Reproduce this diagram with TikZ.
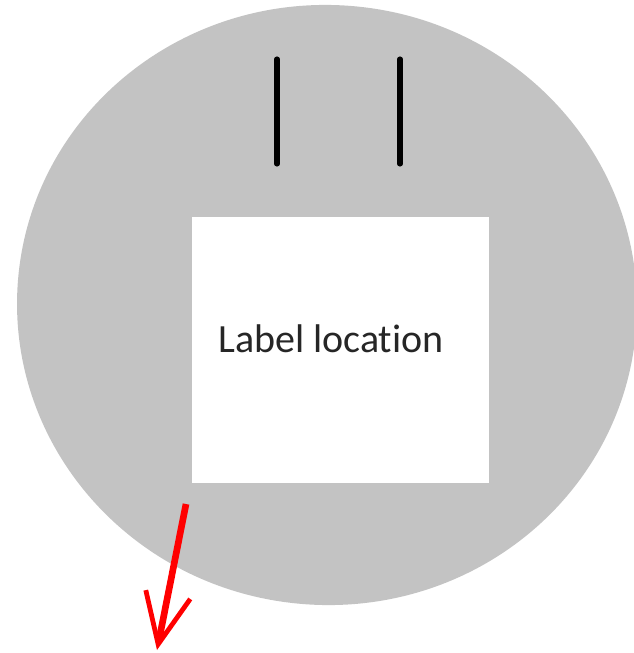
\documentclass[tikz,border=0pt]{standalone}
\usepackage{fontspec}
\setmainfont[Ligatures=NoCommon]{Carlito}
\usetikzlibrary{arrows.meta,shapes.geometric}
\definecolor{disc}{RGB}{195,195,195}
\definecolor{arrowred}{RGB}{255,0,0}
\tikzset{
  pin/.style={line width=3.8pt,line cap=round,black},
  pointer/.style={line width=5pt,arrowred,-{Straight Barb[length=38pt,width=34pt,line width=3.6pt]}},
}
\begin{document}
\begin{tikzpicture}[x=0.75pt,y=-0.75pt]
\useasboundingbox (0,0) rectangle (634,653);
\node[ellipse,fill=disc,minimum width=620*0.75pt,minimum height=600*0.75pt,inner sep=0pt,rotate=-4] (disc) at (327,305) {};
\node[fill=white,minimum width=297*0.75pt,minimum height=266*0.75pt,inner sep=0pt,anchor=north west] (box) at (192,217) {};
\node[anchor=base west,font=\fontsize{30}{36}\selectfont,text=black!85,inner sep=0pt] (lbl) at (218,352) {Label locat\kern0pt ion};
\coordinate (p1a) at (277,59);
\coordinate (p1b) at (277,164);
\coordinate (p2a) at (400,59);
\coordinate (p2b) at (400,164);
\draw[pin] (p1a) -- (p1b);
\draw[pin] (p2a) -- (p2b);
\coordinate (as) at (186,504);
\coordinate (ae) at (157,650);
\draw[pointer] (as) -- (ae);
\end{tikzpicture}
\end{document}
